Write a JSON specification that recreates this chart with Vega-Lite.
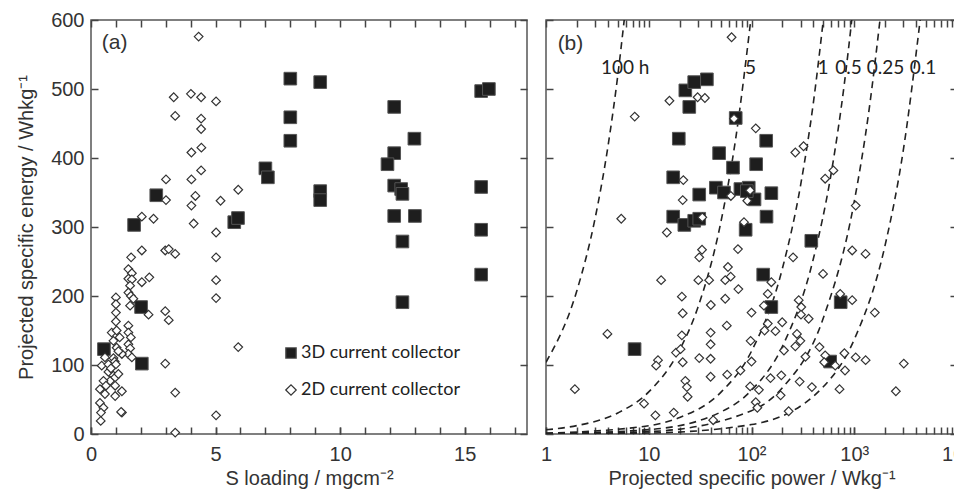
{
  "$schema": "https://vega.github.io/schema/vega-lite/v6.json",
  "background": "white",
  "padding": {"left": 15, "top": 9, "right": 0, "bottom": 0},
  "config": {
    "view": {"stroke": "#555555", "strokeWidth": 1.5},
    "axis": {"labelFont": "Liberation Sans", "titleFont": "Liberation Sans", "labelFontSize": 20, "titleFontSize": 20, "labelColor": "#333333", "titleColor": "#333333", "titleFontWeight": "normal", "tickColor": "#444444", "domain": false, "grid": false, "ticks": true, "tickSize": -7, "tickWidth": 1.5, "labelFlush": false, "labelOverlap": false}
  },
  "datasets": {
    "left": [
      {"s": 0.52, "e": 123, "type": "3D current collector"},
      {"s": 2.04, "e": 102, "type": "3D current collector"},
      {"s": 2.01, "e": 184, "type": "3D current collector"},
      {"s": 1.73, "e": 303, "type": "3D current collector"},
      {"s": 2.62, "e": 346, "type": "3D current collector"},
      {"s": 5.75, "e": 307, "type": "3D current collector"},
      {"s": 5.9, "e": 313, "type": "3D current collector"},
      {"s": 7.0, "e": 385, "type": "3D current collector"},
      {"s": 7.1, "e": 372, "type": "3D current collector"},
      {"s": 8.0, "e": 515, "type": "3D current collector"},
      {"s": 8.0, "e": 459, "type": "3D current collector"},
      {"s": 8.0, "e": 425, "type": "3D current collector"},
      {"s": 9.2, "e": 510, "type": "3D current collector"},
      {"s": 9.2, "e": 352, "type": "3D current collector"},
      {"s": 9.2, "e": 339, "type": "3D current collector"},
      {"s": 12.17, "e": 474, "type": "3D current collector"},
      {"s": 12.17, "e": 407, "type": "3D current collector"},
      {"s": 11.9, "e": 391, "type": "3D current collector"},
      {"s": 12.98, "e": 428, "type": "3D current collector"},
      {"s": 12.17, "e": 360, "type": "3D current collector"},
      {"s": 12.45, "e": 355, "type": "3D current collector"},
      {"s": 12.5, "e": 348, "type": "3D current collector"},
      {"s": 12.17, "e": 316, "type": "3D current collector"},
      {"s": 13.0, "e": 316, "type": "3D current collector"},
      {"s": 12.5, "e": 279, "type": "3D current collector"},
      {"s": 12.5, "e": 191, "type": "3D current collector"},
      {"s": 15.66, "e": 497, "type": "3D current collector"},
      {"s": 15.97, "e": 500, "type": "3D current collector"},
      {"s": 15.66, "e": 358, "type": "3D current collector"},
      {"s": 15.66, "e": 296, "type": "3D current collector"},
      {"s": 15.66, "e": 231, "type": "3D current collector"},
      {"s": 4.32, "e": 576, "type": "2D current collector"},
      {"s": 3.32, "e": 488, "type": "2D current collector"},
      {"s": 4.01, "e": 493, "type": "2D current collector"},
      {"s": 4.42, "e": 488, "type": "2D current collector"},
      {"s": 5.02, "e": 482, "type": "2D current collector"},
      {"s": 3.38, "e": 461, "type": "2D current collector"},
      {"s": 4.42, "e": 457, "type": "2D current collector"},
      {"s": 4.42, "e": 442, "type": "2D current collector"},
      {"s": 4.03, "e": 408, "type": "2D current collector"},
      {"s": 4.43, "e": 415, "type": "2D current collector"},
      {"s": 4.42, "e": 382, "type": "2D current collector"},
      {"s": 3.01, "e": 369, "type": "2D current collector"},
      {"s": 4.03, "e": 369, "type": "2D current collector"},
      {"s": 4.19, "e": 345, "type": "2D current collector"},
      {"s": 3.01, "e": 339, "type": "2D current collector"},
      {"s": 4.03, "e": 331, "type": "2D current collector"},
      {"s": 4.12, "e": 305, "type": "2D current collector"},
      {"s": 5.2, "e": 338, "type": "2D current collector"},
      {"s": 5.91, "e": 354, "type": "2D current collector"},
      {"s": 2.04, "e": 315, "type": "2D current collector"},
      {"s": 2.51, "e": 312, "type": "2D current collector"},
      {"s": 5.02, "e": 292, "type": "2D current collector"},
      {"s": 5.02, "e": 256, "type": "2D current collector"},
      {"s": 5.02, "e": 223, "type": "2D current collector"},
      {"s": 5.02, "e": 197, "type": "2D current collector"},
      {"s": 2.98, "e": 266, "type": "2D current collector"},
      {"s": 3.12, "e": 268, "type": "2D current collector"},
      {"s": 3.38, "e": 261, "type": "2D current collector"},
      {"s": 2.04, "e": 266, "type": "2D current collector"},
      {"s": 2.34, "e": 227, "type": "2D current collector"},
      {"s": 2.04, "e": 220, "type": "2D current collector"},
      {"s": 2.98, "e": 178, "type": "2D current collector"},
      {"s": 3.12, "e": 165, "type": "2D current collector"},
      {"s": 2.31, "e": 173, "type": "2D current collector"},
      {"s": 2.98, "e": 102, "type": "2D current collector"},
      {"s": 3.38, "e": 60, "type": "2D current collector"},
      {"s": 3.38, "e": 2, "type": "2D current collector"},
      {"s": 5.02, "e": 27, "type": "2D current collector"},
      {"s": 5.91, "e": 126, "type": "2D current collector"},
      {"s": 1.24, "e": 31, "type": "2D current collector"},
      {"s": 1.61, "e": 256, "type": "2D current collector"},
      {"s": 1.5, "e": 239, "type": "2D current collector"},
      {"s": 1.64, "e": 233, "type": "2D current collector"},
      {"s": 1.5, "e": 225, "type": "2D current collector"},
      {"s": 1.64, "e": 224, "type": "2D current collector"},
      {"s": 1.57, "e": 215, "type": "2D current collector"},
      {"s": 1.5, "e": 205, "type": "2D current collector"},
      {"s": 1.6, "e": 200, "type": "2D current collector"},
      {"s": 1.7, "e": 196, "type": "2D current collector"},
      {"s": 1.57, "e": 186, "type": "2D current collector"},
      {"s": 1.0, "e": 198, "type": "2D current collector"},
      {"s": 1.0, "e": 188, "type": "2D current collector"},
      {"s": 1.0, "e": 176, "type": "2D current collector"},
      {"s": 1.0, "e": 163, "type": "2D current collector"},
      {"s": 0.83, "e": 147, "type": "2D current collector"},
      {"s": 1.03, "e": 150, "type": "2D current collector"},
      {"s": 1.15, "e": 140, "type": "2D current collector"},
      {"s": 1.5, "e": 157, "type": "2D current collector"},
      {"s": 1.5, "e": 147, "type": "2D current collector"},
      {"s": 1.6, "e": 140, "type": "2D current collector"},
      {"s": 1.5, "e": 130, "type": "2D current collector"},
      {"s": 1.57, "e": 124, "type": "2D current collector"},
      {"s": 1.5, "e": 116, "type": "2D current collector"},
      {"s": 1.64, "e": 111, "type": "2D current collector"},
      {"s": 1.03, "e": 125, "type": "2D current collector"},
      {"s": 1.24, "e": 116, "type": "2D current collector"},
      {"s": 0.9, "e": 110, "type": "2D current collector"},
      {"s": 0.95, "e": 105, "type": "2D current collector"},
      {"s": 0.56, "e": 111, "type": "2D current collector"},
      {"s": 0.43, "e": 99, "type": "2D current collector"},
      {"s": 0.7, "e": 101, "type": "2D current collector"},
      {"s": 1.0, "e": 101, "type": "2D current collector"},
      {"s": 0.83, "e": 87, "type": "2D current collector"},
      {"s": 0.77, "e": 77, "type": "2D current collector"},
      {"s": 0.5, "e": 77, "type": "2D current collector"},
      {"s": 0.97, "e": 82, "type": "2D current collector"},
      {"s": 1.1, "e": 87, "type": "2D current collector"},
      {"s": 1.24, "e": 62, "type": "2D current collector"},
      {"s": 0.97, "e": 70, "type": "2D current collector"},
      {"s": 0.36, "e": 65, "type": "2D current collector"},
      {"s": 0.56, "e": 58, "type": "2D current collector"},
      {"s": 0.97, "e": 55, "type": "2D current collector"},
      {"s": 0.36, "e": 45, "type": "2D current collector"},
      {"s": 0.5, "e": 38, "type": "2D current collector"},
      {"s": 0.4, "e": 31, "type": "2D current collector"},
      {"s": 0.39, "e": 19, "type": "2D current collector"},
      {"s": 1.21, "e": 32, "type": "2D current collector"},
      {"s": 0.7, "e": 90, "type": "2D current collector"},
      {"s": 0.6, "e": 70, "type": "2D current collector"},
      {"s": 0.8, "e": 95, "type": "2D current collector"},
      {"s": 1.1, "e": 120, "type": "2D current collector"},
      {"s": 0.9, "e": 135, "type": "2D current collector"}
    ],
    "right": [
      {"p": 22.7, "e": 498, "type": "3D current collector"},
      {"p": 27.7, "e": 510, "type": "3D current collector"},
      {"p": 36.8, "e": 514, "type": "3D current collector"},
      {"p": 24.8, "e": 474, "type": "3D current collector"},
      {"p": 70.2, "e": 458, "type": "3D current collector"},
      {"p": 19.6, "e": 428, "type": "3D current collector"},
      {"p": 139, "e": 425, "type": "3D current collector"},
      {"p": 48.4, "e": 407, "type": "3D current collector"},
      {"p": 66.1, "e": 386, "type": "3D current collector"},
      {"p": 111, "e": 391, "type": "3D current collector"},
      {"p": 17.3, "e": 372, "type": "3D current collector"},
      {"p": 31, "e": 347, "type": "3D current collector"},
      {"p": 45, "e": 357, "type": "3D current collector"},
      {"p": 54, "e": 350, "type": "3D current collector"},
      {"p": 78, "e": 355, "type": "3D current collector"},
      {"p": 94, "e": 357, "type": "3D current collector"},
      {"p": 107, "e": 340, "type": "3D current collector"},
      {"p": 156, "e": 349, "type": "3D current collector"},
      {"p": 17.3, "e": 315, "type": "3D current collector"},
      {"p": 22.2, "e": 303, "type": "3D current collector"},
      {"p": 27.7, "e": 309, "type": "3D current collector"},
      {"p": 31, "e": 312, "type": "3D current collector"},
      {"p": 140, "e": 315, "type": "3D current collector"},
      {"p": 87.7, "e": 296, "type": "3D current collector"},
      {"p": 382, "e": 280, "type": "3D current collector"},
      {"p": 130, "e": 231, "type": "3D current collector"},
      {"p": 156, "e": 184, "type": "3D current collector"},
      {"p": 738, "e": 191, "type": "3D current collector"},
      {"p": 7.28, "e": 123, "type": "3D current collector"},
      {"p": 583, "e": 105, "type": "3D current collector"},
      {"p": 90, "e": 352, "type": "3D current collector"},
      {"p": 64, "e": 575, "type": "2D current collector"},
      {"p": 15.9, "e": 483, "type": "2D current collector"},
      {"p": 29.9, "e": 488, "type": "2D current collector"},
      {"p": 35.2, "e": 487, "type": "2D current collector"},
      {"p": 7.3, "e": 460, "type": "2D current collector"},
      {"p": 67.6, "e": 457, "type": "2D current collector"},
      {"p": 110, "e": 443, "type": "2D current collector"},
      {"p": 267, "e": 408, "type": "2D current collector"},
      {"p": 321, "e": 417, "type": "2D current collector"},
      {"p": 521, "e": 370, "type": "2D current collector"},
      {"p": 627, "e": 382, "type": "2D current collector"},
      {"p": 21.7, "e": 368, "type": "2D current collector"},
      {"p": 21.4, "e": 339, "type": "2D current collector"},
      {"p": 63, "e": 345, "type": "2D current collector"},
      {"p": 91, "e": 338, "type": "2D current collector"},
      {"p": 97, "e": 353, "type": "2D current collector"},
      {"p": 1033, "e": 331, "type": "2D current collector"},
      {"p": 33.2, "e": 314, "type": "2D current collector"},
      {"p": 5.4, "e": 312, "type": "2D current collector"},
      {"p": 15, "e": 292, "type": "2D current collector"},
      {"p": 84.5, "e": 307, "type": "2D current collector"},
      {"p": 33, "e": 267, "type": "2D current collector"},
      {"p": 31, "e": 256, "type": "2D current collector"},
      {"p": 73.8, "e": 268, "type": "2D current collector"},
      {"p": 254, "e": 256, "type": "2D current collector"},
      {"p": 955, "e": 266, "type": "2D current collector"},
      {"p": 1288, "e": 261, "type": "2D current collector"},
      {"p": 497, "e": 232, "type": "2D current collector"},
      {"p": 13.2, "e": 223, "type": "2D current collector"},
      {"p": 30.4, "e": 223, "type": "2D current collector"},
      {"p": 38.7, "e": 223, "type": "2D current collector"},
      {"p": 59, "e": 242, "type": "2D current collector"},
      {"p": 55.5, "e": 223, "type": "2D current collector"},
      {"p": 62.7, "e": 228, "type": "2D current collector"},
      {"p": 74.5, "e": 210, "type": "2D current collector"},
      {"p": 156, "e": 220, "type": "2D current collector"},
      {"p": 144, "e": 203, "type": "2D current collector"},
      {"p": 21, "e": 199, "type": "2D current collector"},
      {"p": 40.2, "e": 187, "type": "2D current collector"},
      {"p": 55.5, "e": 196, "type": "2D current collector"},
      {"p": 21.4, "e": 175, "type": "2D current collector"},
      {"p": 100, "e": 176, "type": "2D current collector"},
      {"p": 132, "e": 186, "type": "2D current collector"},
      {"p": 288, "e": 194, "type": "2D current collector"},
      {"p": 305, "e": 184, "type": "2D current collector"},
      {"p": 303, "e": 173, "type": "2D current collector"},
      {"p": 360, "e": 167, "type": "2D current collector"},
      {"p": 730, "e": 203, "type": "2D current collector"},
      {"p": 955, "e": 194, "type": "2D current collector"},
      {"p": 1585, "e": 176, "type": "2D current collector"},
      {"p": 57.5, "e": 157, "type": "2D current collector"},
      {"p": 144, "e": 160, "type": "2D current collector"},
      {"p": 134, "e": 150, "type": "2D current collector"},
      {"p": 171, "e": 149, "type": "2D current collector"},
      {"p": 199, "e": 162, "type": "2D current collector"},
      {"p": 40, "e": 147, "type": "2D current collector"},
      {"p": 21, "e": 143, "type": "2D current collector"},
      {"p": 98, "e": 135, "type": "2D current collector"},
      {"p": 277, "e": 145, "type": "2D current collector"},
      {"p": 299, "e": 135, "type": "2D current collector"},
      {"p": 267, "e": 127, "type": "2D current collector"},
      {"p": 3.96, "e": 145, "type": "2D current collector"},
      {"p": 40, "e": 130, "type": "2D current collector"},
      {"p": 18.4, "e": 118, "type": "2D current collector"},
      {"p": 20.4, "e": 123, "type": "2D current collector"},
      {"p": 31, "e": 110, "type": "2D current collector"},
      {"p": 40, "e": 109, "type": "2D current collector"},
      {"p": 21.4, "e": 104, "type": "2D current collector"},
      {"p": 12.3, "e": 107, "type": "2D current collector"},
      {"p": 11.8, "e": 99, "type": "2D current collector"},
      {"p": 100, "e": 105, "type": "2D current collector"},
      {"p": 207, "e": 121, "type": "2D current collector"},
      {"p": 335, "e": 112, "type": "2D current collector"},
      {"p": 459, "e": 126, "type": "2D current collector"},
      {"p": 521, "e": 114, "type": "2D current collector"},
      {"p": 510, "e": 104, "type": "2D current collector"},
      {"p": 802, "e": 117, "type": "2D current collector"},
      {"p": 1033, "e": 111, "type": "2D current collector"},
      {"p": 1290, "e": 107, "type": "2D current collector"},
      {"p": 3034, "e": 102, "type": "2D current collector"},
      {"p": 653, "e": 99, "type": "2D current collector"},
      {"p": 813, "e": 92, "type": "2D current collector"},
      {"p": 1.91, "e": 65, "type": "2D current collector"},
      {"p": 22.7, "e": 77, "type": "2D current collector"},
      {"p": 23.5, "e": 68, "type": "2D current collector"},
      {"p": 23.9, "e": 54, "type": "2D current collector"},
      {"p": 40, "e": 83, "type": "2D current collector"},
      {"p": 58, "e": 86, "type": "2D current collector"},
      {"p": 78, "e": 92, "type": "2D current collector"},
      {"p": 97, "e": 69, "type": "2D current collector"},
      {"p": 118, "e": 64, "type": "2D current collector"},
      {"p": 153, "e": 81, "type": "2D current collector"},
      {"p": 195, "e": 85, "type": "2D current collector"},
      {"p": 192, "e": 56, "type": "2D current collector"},
      {"p": 294, "e": 76, "type": "2D current collector"},
      {"p": 387, "e": 68, "type": "2D current collector"},
      {"p": 719, "e": 65, "type": "2D current collector"},
      {"p": 2541, "e": 62, "type": "2D current collector"},
      {"p": 9, "e": 44, "type": "2D current collector"},
      {"p": 11.6, "e": 27, "type": "2D current collector"},
      {"p": 17.5, "e": 31, "type": "2D current collector"},
      {"p": 42.4, "e": 20, "type": "2D current collector"},
      {"p": 110, "e": 46, "type": "2D current collector"},
      {"p": 114, "e": 38, "type": "2D current collector"},
      {"p": 230, "e": 33, "type": "2D current collector"}
    ],
    "curves": [
      {"t": "100", "p": 1, "e": 104}, {"t": "100", "p": 2, "e": 208}, {"t": "100", "p": 3, "e": 312}, {"t": "100", "p": 4, "e": 416}, {"t": "100", "p": 5, "e": 520}, {"t": "100", "p": 5.77, "e": 600},
      {"t": "5", "p": 1, "e": 6.1}, {"t": "5", "p": 2, "e": 12.2}, {"t": "5", "p": 5, "e": 30.5}, {"t": "5", "p": 10, "e": 61}, {"t": "5", "p": 20, "e": 122}, {"t": "5", "p": 30, "e": 183}, {"t": "5", "p": 50, "e": 305}, {"t": "5", "p": 70, "e": 427}, {"t": "5", "p": 98.4, "e": 600},
      {"t": "1", "p": 1, "e": 1.2}, {"t": "1", "p": 10, "e": 12}, {"t": "1", "p": 20, "e": 24}, {"t": "1", "p": 50, "e": 60}, {"t": "1", "p": 100, "e": 120}, {"t": "1", "p": 200, "e": 240}, {"t": "1", "p": 300, "e": 360}, {"t": "1", "p": 400, "e": 480}, {"t": "1", "p": 500, "e": 600},
      {"t": "0.5", "p": 1, "e": 0.63}, {"t": "0.5", "p": 10, "e": 6.3}, {"t": "0.5", "p": 50, "e": 31.7}, {"t": "0.5", "p": 100, "e": 63.4}, {"t": "0.5", "p": 200, "e": 127}, {"t": "0.5", "p": 400, "e": 254}, {"t": "0.5", "p": 600, "e": 380}, {"t": "0.5", "p": 800, "e": 507}, {"t": "0.5", "p": 946, "e": 600},
      {"t": "0.25", "p": 1, "e": 0.34}, {"t": "0.25", "p": 10, "e": 3.4}, {"t": "0.25", "p": 100, "e": 33.7}, {"t": "0.25", "p": 200, "e": 67}, {"t": "0.25", "p": 500, "e": 168}, {"t": "0.25", "p": 1000, "e": 337}, {"t": "0.25", "p": 1400, "e": 472}, {"t": "0.25", "p": 1780, "e": 600},
      {"t": "0.1", "p": 1, "e": 0.14}, {"t": "0.1", "p": 10, "e": 1.4}, {"t": "0.1", "p": 100, "e": 13.7}, {"t": "0.1", "p": 500, "e": 68.5}, {"t": "0.1", "p": 1000, "e": 137}, {"t": "0.1", "p": 2000, "e": 274}, {"t": "0.1", "p": 3000, "e": 411}, {"t": "0.1", "p": 4380, "e": 600}
    ],
    "curveLabels": [
      {"label": "100 h", "p": 5.9, "e": 531},
      {"label": "5", "p": 98, "e": 531},
      {"label": "1", "p": 496, "e": 531},
      {"label": "0.5", "p": 877, "e": 531},
      {"label": "0.25", "p": 2018, "e": 531},
      {"label": "0.1", "p": 4667, "e": 531}
    ]
  },
  "spacing": 10,
  "resolve": {"scale": {"shape": "independent", "fill": "independent", "stroke": "independent"}},
  "hconcat": [
    {
      "width": 436,
      "height": 414,
      "layer": [
        {
          "layer": [
            {
              "data": {"name": "left"},
              "transform": [{"filter": "datum.type === '3D current collector'"}],
              "mark": {"type": "point", "size": 160, "strokeWidth": 1, "opacity": 1},
              "encoding": {
                "x": {"field": "s", "type": "quantitative", "scale": {"domain": [0, 17.5], "nice": false, "zero": false},
                  "axis": {"orient": "bottom", "values": [0, 5, 10, 15], "labelOverlap": false, "title": "S loading / mgcm⁻²", "ticks": true, "tickSize": -7, "labelPadding": 17, "titlePadding": 4}},
                "y": {"field": "e", "type": "quantitative", "scale": {"domain": [0, 600], "nice": false},
                  "axis": {"orient": "left", "values": [0,100,200,300,400,500,600], "labelOverlap": false, "title": "Projected specific energy / Whkg⁻¹", "ticks": true, "tickSize": -7, "labelPadding": 14, "titlePadding": 14}},
                "shape": {"field": "type", "type": "nominal", "scale": {"domain": ["3D current collector", "2D current collector"], "range": ["square", "diamond"]},
                  "legend": {"orient": "none", "legendX": 191, "legendY": 324, "title": null, "labelFont": "Lato", "labelFontSize": 18, "labelColor": "#222222", "symbolSize": 110, "rowPadding": 19, "symbolStrokeWidth": 1.2, "labelOffset": 1}},
                "fill": {"field": "type", "type": "nominal", "scale": {"domain": ["3D current collector", "2D current collector"], "range": ["#1e1e1e", "#ffffff"]},
                  "legend": {"orient": "none", "legendX": 191, "legendY": 324, "title": null, "labelFont": "Lato", "labelFontSize": 18, "labelColor": "#222222", "symbolSize": 110, "rowPadding": 19, "symbolStrokeWidth": 1.2, "labelOffset": 1}},
                "stroke": {"field": "type", "type": "nominal", "scale": {"domain": ["3D current collector", "2D current collector"], "range": ["#555555", "#333333"]},
                  "legend": {"orient": "none", "legendX": 191, "legendY": 324, "title": null, "labelFont": "Lato", "labelFontSize": 18, "labelColor": "#222222", "symbolSize": 110, "rowPadding": 19, "symbolStrokeWidth": 1.2, "labelOffset": 1}}
              }
            },
            {
              "data": {"name": "left"},
              "transform": [{"filter": "datum.type === '2D current collector'"}],
              "mark": {"type": "point", "size": 75, "strokeWidth": 1.2, "opacity": 1},
              "encoding": {
                "x": {"field": "s", "type": "quantitative"},
                "y": {"field": "e", "type": "quantitative"},
                "shape": {"field": "type", "type": "nominal"},
                "fill": {"field": "type", "type": "nominal"},
                "stroke": {"field": "type", "type": "nominal"}
              }
            },
            {
              "data": {"values": [{"s": 0.95, "e": 566, "label": "(a)"}]},
              "mark": {"type": "text", "font": "Liberation Sans", "fontSize": 21, "color": "#333333", "align": "center", "baseline": "middle"},
              "encoding": {
                "x": {"field": "s", "type": "quantitative"},
                "y": {"field": "e", "type": "quantitative"},
                "text": {"field": "label"}
              }
            }
          ]
        },
        {
          "data": {"name": "left"},
          "mark": {"type": "point", "opacity": 0},
          "encoding": {
            "x": {"field": "s", "type": "quantitative", "axis": {"orient": "top", "values": [0,1,2,3,4,5,6,7,8,9,10,11,12,13,14,15,16,17], "labels": false, "title": null, "ticks": true, "tickSize": -7}},
            "y": {"field": "e", "type": "quantitative", "axis": {"orient": "right", "values": [0,100,200,300,400,500,600], "labels": false, "title": null, "ticks": true, "tickSize": -7}}
          }
        },
        {
          "data": {"name": "left"},
          "mark": {"type": "point", "opacity": 0},
          "encoding": {
            "x": {"field": "s", "type": "quantitative", "axis": {"orient": "bottom", "values": [0,1,2,3,4,5,6,7,8,9,10,11,12,13,14,15,16,17], "labels": false, "title": null, "ticks": true, "tickSize": -7}},
            "y": {"field": "e", "type": "quantitative", "axis": null}
          }
        }
      ],
      "resolve": {"axis": {"x": "independent", "y": "independent"}}
    },
    {
      "width": 411,
      "height": 414,
      "layer": [
        {
          "layer": [
            {
              "data": {"name": "curves"},
              "mark": {"type": "line", "strokeDash": [7, 5], "strokeWidth": 1.6, "color": "#222222", "interpolate": "monotone", "clip": true},
              "encoding": {
                "x": {"field": "p", "type": "quantitative", "scale": {"type": "log", "domain": [1, 10000], "nice": false},
                  "axis": {"orient": "bottom", "values": [1, 10, 100, 1000, 10000],
                    "labelExpr": "datum.value === 1 ? '1' : datum.value === 10 ? '10' : datum.value === 100 ? '10²' : datum.value === 1000 ? '10³' : '10⁴'",
                    "labelOverlap": false, "title": "Projected specific power / Wkg⁻¹", "ticks": true, "tickSize": -7, "labelPadding": 17, "titlePadding": 4}},
                "y": {"field": "e", "type": "quantitative", "scale": {"domain": [0, 600], "nice": false},
                  "axis": {"orient": "left", "values": [0,100,200,300,400,500,600], "labels": false, "title": null, "ticks": true, "tickSize": -7}},
                "detail": {"field": "t", "type": "nominal"}
              }
            },
            {
              "data": {"name": "right"},
              "transform": [{"filter": "datum.type === '3D current collector'"}],
              "mark": {"type": "point", "size": 160, "strokeWidth": 1, "opacity": 1},
              "encoding": {
                "x": {"field": "p", "type": "quantitative"},
                "y": {"field": "e", "type": "quantitative"},
                "shape": {"field": "type", "type": "nominal", "scale": {"domain": ["3D current collector", "2D current collector"], "range": ["square", "diamond"]}, "legend": null},
                "fill": {"field": "type", "type": "nominal", "scale": {"domain": ["3D current collector", "2D current collector"], "range": ["#1e1e1e", "#ffffff"]}, "legend": null},
                "stroke": {"field": "type", "type": "nominal", "scale": {"domain": ["3D current collector", "2D current collector"], "range": ["#555555", "#333333"]}, "legend": null}
              }
            },
            {
              "data": {"name": "right"},
              "transform": [{"filter": "datum.type === '2D current collector'"}],
              "mark": {"type": "point", "size": 75, "strokeWidth": 1.2, "opacity": 1},
              "encoding": {
                "x": {"field": "p", "type": "quantitative"},
                "y": {"field": "e", "type": "quantitative"},
                "shape": {"field": "type", "type": "nominal", "legend": null},
                "fill": {"field": "type", "type": "nominal", "legend": null},
                "stroke": {"field": "type", "type": "nominal", "legend": null}
              }
            },
            {
              "data": {"name": "curveLabels"},
              "mark": {"type": "text", "font": "Lato", "fontSize": 19, "color": "#222222", "align": "center", "baseline": "middle"},
              "encoding": {
                "x": {"field": "p", "type": "quantitative"},
                "y": {"field": "e", "type": "quantitative"},
                "text": {"field": "label"}
              }
            },
            {
              "data": {"values": [{"p": 1.73, "e": 565, "label": "(b)"}]},
              "mark": {"type": "text", "font": "Liberation Sans", "fontSize": 21, "color": "#333333", "align": "center", "baseline": "middle"},
              "encoding": {
                "x": {"field": "p", "type": "quantitative"},
                "y": {"field": "e", "type": "quantitative"},
                "text": {"field": "label"}
              }
            }
          ]
        },
        {
          "data": {"name": "right"},
          "mark": {"type": "point", "opacity": 0},
          "encoding": {
            "x": {"field": "p", "type": "quantitative", "axis": {"orient": "top", "values": [1,2,3,4,5,6,7,8,9,10,20,30,40,50,60,70,80,90,100,200,300,400,500,600,700,800,900,1000,2000,3000,4000,5000,6000,7000,8000,9000,10000], "labels": false, "title": null, "ticks": true, "tickSize": -7}},
            "y": {"field": "e", "type": "quantitative", "axis": {"orient": "right", "values": [0,100,200,300,400,500,600], "labels": false, "title": null, "ticks": true, "tickSize": -7}}
          }
        },
        {
          "data": {"name": "right"},
          "mark": {"type": "point", "opacity": 0},
          "encoding": {
            "x": {"field": "p", "type": "quantitative", "axis": {"orient": "bottom", "values": [1,2,3,4,5,6,7,8,9,10,20,30,40,50,60,70,80,90,100,200,300,400,500,600,700,800,900,1000,2000,3000,4000,5000,6000,7000,8000,9000,10000], "labels": false, "title": null, "ticks": true, "tickSize": -7}},
            "y": {"field": "e", "type": "quantitative", "axis": null}
          }
        }
      ],
      "resolve": {"axis": {"x": "independent", "y": "independent"}}
    }
  ]
}
